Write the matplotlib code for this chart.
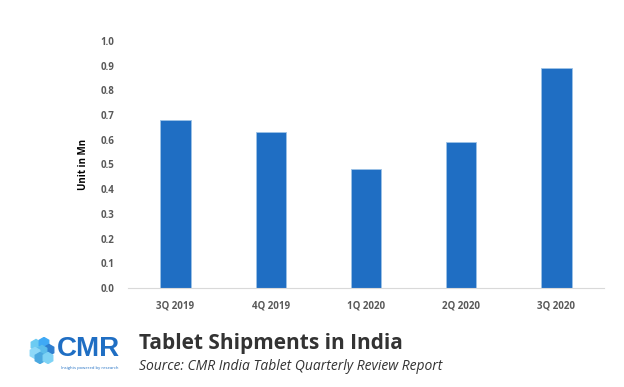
import matplotlib
matplotlib.use('Agg')
import matplotlib.pyplot as plt
from matplotlib.patches import RegularPolygon

quarters = ['3Q 2019', '4Q 2019', '1Q 2020', '2Q 2020', '3Q 2020']
shipments = [0.68, 0.63, 0.48, 0.59, 0.89]
yticks = [0.0, 0.1, 0.2, 0.3, 0.4, 0.5, 0.6, 0.7, 0.8, 0.9, 1.0]

plt.rcParams['font.family'] = ['Open Sans', 'DejaVu Sans']

fig = plt.figure(figsize=(6.24, 3.87), dpi=100)
ax = fig.add_axes([0.205, 0.256, 0.763, 0.638])

ax.bar(range(len(quarters)), shipments, width=0.32, color='#1F6EC3',
       edgecolor='#9DC3E6', linewidth=0.6)
ax.set_xlim(-0.5, len(quarters) - 0.5)
ax.set_ylim(0, 1.0)
ax.set_yticks(yticks)
ax.set_yticklabels([f'{v:.1f}' for v in yticks], fontsize=7,
                   fontweight='bold', color='#595959')
ax.set_xticks(range(len(quarters)))
ax.set_xticklabels(quarters, fontsize=7, fontweight='bold', color='#595959')
ax.tick_params(length=0, pad=9)
ax.tick_params(axis='y', pad=10)
for s in ['top', 'right', 'left']:
    ax.spines[s].set_visible(False)
ax.spines['bottom'].set_color('#D9D9D9')
ax.spines['bottom'].set_linewidth(0.8)
ax.set_ylabel('Unit in Mn', fontsize=7, fontweight='bold', color='black', labelpad=8)

# logo: cluster of hexagons + text
lax = fig.add_axes([28 / 624, 1 - 364 / 387, 28 / 624, 27 / 387])
lax.set_xlim(0, 28)
lax.set_ylim(0, 27)
lax.axis('off')
hexes = [(8, 19, '#6CCBF2'), (16, 21, '#3FA9F5'), (21, 14, '#2E7FD0'),
         (14, 13, '#5BBDEB'), (7, 11, '#8ED8F8'), (12, 6, '#4AA8E0'),
         (20, 6, '#7FD3F5')]
for x, y, c in hexes:
    lax.add_patch(RegularPolygon((x, y), 6, radius=5.5, color=c))

fig.text(57 / 624, 1 - 349 / 387, 'CMR', fontsize=20, fontweight='bold',
         color='#1F6EC3', va='center', family=['Liberation Sans', 'DejaVu Sans'])
fig.text(90 / 624, 1 - 368 / 387, 'Insights powered by research', fontsize=3,
         color='#1F6EC3', ha='center', va='center')

fig.text(0.222, 0.112, 'Tablet Shipments in India', fontsize=15, fontweight='bold',
         color='#333333', va='center')
fig.text(0.222, 0.052, 'Source: CMR India Tablet Quarterly Review Report', fontsize=10,
         style='italic', color='#333333', va='center')

fig.savefig('out.png', dpi=100)
